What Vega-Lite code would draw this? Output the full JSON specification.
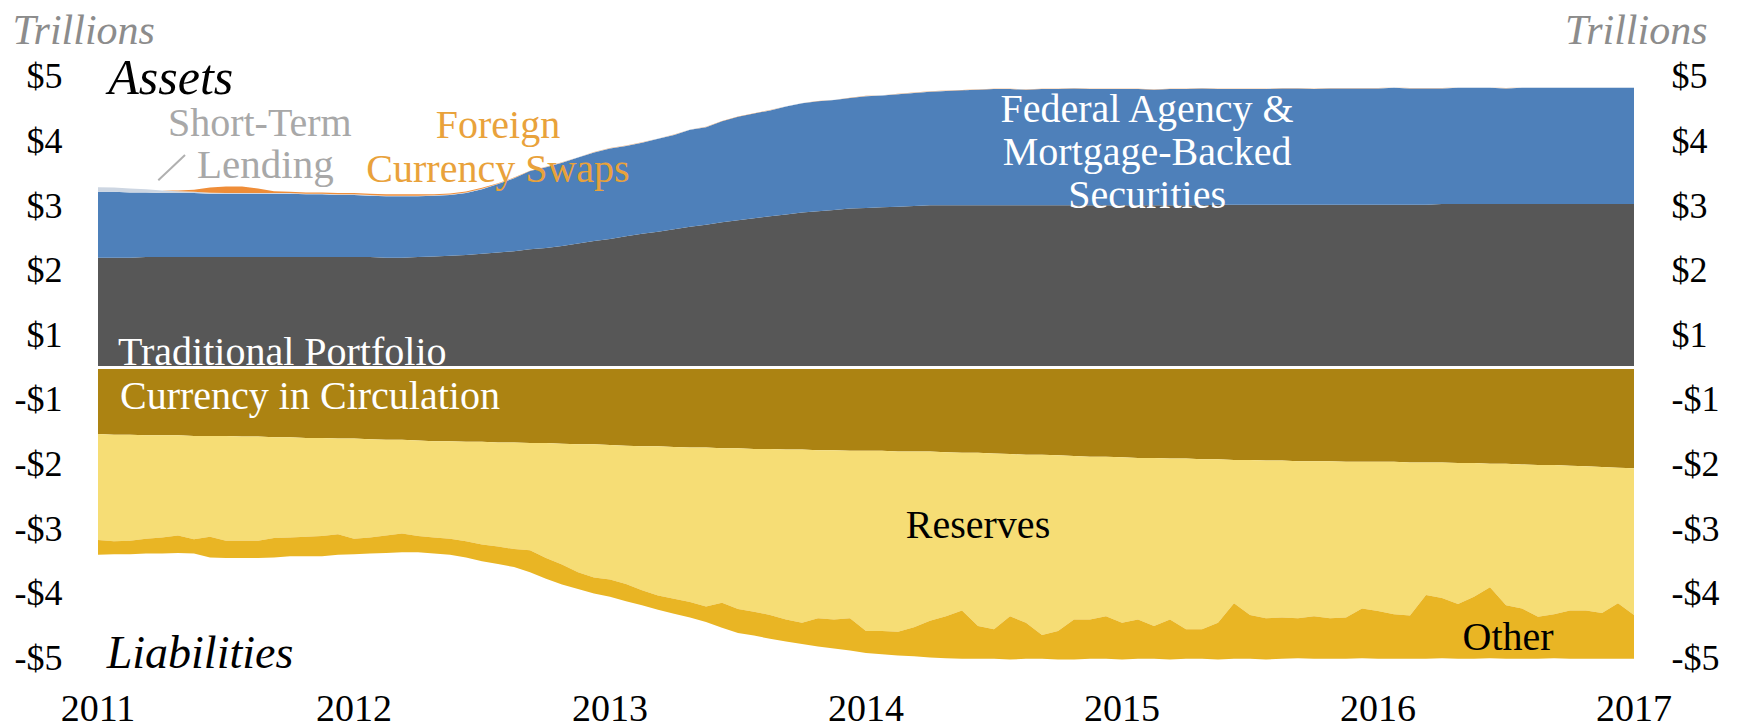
{
  "$schema": "https://vega.github.io/schema/vega-lite/v6.json",
  "autosize": {"type": "none"},
  "width": 1536,
  "height": 646,
  "padding": {"left": 98, "top": 44.5, "right": 104, "bottom": 37.5},
  "background": "white",
  "config": {
    "font": "Liberation Serif",
    "view": {"stroke": null},
    "text": {"font": "Liberation Serif"}
  },
  "datasets": {
    "series": [
      {"key": "trad", "rank": 1},
      {"key": "mbs", "rank": 2},
      {"key": "st", "rank": 3},
      {"key": "fx", "rank": 4},
      {"key": "cur", "rank": 5},
      {"key": "res", "rank": 6},
      {"key": "oth", "rank": 7}
    ],
    "years": [
      {"year": 2011}, {"year": 2012}, {"year": 2013}, {"year": 2014}, {"year": 2015}, {"year": 2016}, {"year": 2017}
    ],
    "balance": [
      {"year": 2011, "trad": 1.70, "mbs": 1.02, "st": 0.07, "fx": 0, "cur": -1.03, "res": -1.64, "oth": -0.23},
      {"year": 2011.0625, "trad": 1.70, "mbs": 1.02, "st": 0.065, "fx": 0, "cur": -1.04, "res": -1.65, "oth": -0.20},
      {"year": 2011.125, "trad": 1.70, "mbs": 1.01, "st": 0.06, "fx": 0, "cur": -1.04, "res": -1.64, "oth": -0.21},
      {"year": 2011.1875, "trad": 1.71, "mbs": 1.00, "st": 0.05, "fx": 0, "cur": -1.05, "res": -1.60, "oth": -0.23},
      {"year": 2011.25, "trad": 1.71, "mbs": 0.99, "st": 0.04, "fx": 0, "cur": -1.05, "res": -1.58, "oth": -0.25},
      {"year": 2011.3125, "trad": 1.71, "mbs": 0.99, "st": 0.03, "fx": 0.01, "cur": -1.05, "res": -1.55, "oth": -0.27},
      {"year": 2011.375, "trad": 1.71, "mbs": 0.99, "st": 0.02, "fx": 0.03, "cur": -1.06, "res": -1.60, "oth": -0.22},
      {"year": 2011.4375, "trad": 1.71, "mbs": 0.98, "st": 0.015, "fx": 0.08, "cur": -1.06, "res": -1.56, "oth": -0.32},
      {"year": 2011.5, "trad": 1.71, "mbs": 0.98, "st": 0.01, "fx": 0.10, "cur": -1.06, "res": -1.62, "oth": -0.27},
      {"year": 2011.5625, "trad": 1.71, "mbs": 0.98, "st": 0.01, "fx": 0.10, "cur": -1.07, "res": -1.61, "oth": -0.27},
      {"year": 2011.625, "trad": 1.71, "mbs": 0.98, "st": 0.01, "fx": 0.07, "cur": -1.07, "res": -1.61, "oth": -0.27},
      {"year": 2011.6875, "trad": 1.71, "mbs": 0.98, "st": 0.01, "fx": 0.03, "cur": -1.08, "res": -1.56, "oth": -0.30},
      {"year": 2011.75, "trad": 1.71, "mbs": 0.98, "st": 0.01, "fx": 0.02, "cur": -1.08, "res": -1.55, "oth": -0.29},
      {"year": 2011.8125, "trad": 1.71, "mbs": 0.97, "st": 0.01, "fx": 0.02, "cur": -1.09, "res": -1.53, "oth": -0.30},
      {"year": 2011.875, "trad": 1.71, "mbs": 0.97, "st": 0.01, "fx": 0.02, "cur": -1.09, "res": -1.52, "oth": -0.31},
      {"year": 2011.9375, "trad": 1.71, "mbs": 0.96, "st": 0.01, "fx": 0.02, "cur": -1.10, "res": -1.48, "oth": -0.32},
      {"year": 2012, "trad": 1.71, "mbs": 0.96, "st": 0.01, "fx": 0.02, "cur": -1.10, "res": -1.55, "oth": -0.24},
      {"year": 2012.0625, "trad": 1.71, "mbs": 0.95, "st": 0.01, "fx": 0.02, "cur": -1.11, "res": -1.52, "oth": -0.25},
      {"year": 2012.125, "trad": 1.70, "mbs": 0.95, "st": 0.01, "fx": 0.02, "cur": -1.12, "res": -1.48, "oth": -0.27},
      {"year": 2012.1875, "trad": 1.70, "mbs": 0.95, "st": 0.01, "fx": 0.02, "cur": -1.12, "res": -1.45, "oth": -0.29},
      {"year": 2012.25, "trad": 1.71, "mbs": 0.94, "st": 0.01, "fx": 0.02, "cur": -1.13, "res": -1.48, "oth": -0.25},
      {"year": 2012.3125, "trad": 1.72, "mbs": 0.94, "st": 0.008, "fx": 0.015, "cur": -1.14, "res": -1.49, "oth": -0.25},
      {"year": 2012.375, "trad": 1.73, "mbs": 0.94, "st": 0.008, "fx": 0.015, "cur": -1.14, "res": -1.51, "oth": -0.25},
      {"year": 2012.4375, "trad": 1.74, "mbs": 0.96, "st": 0.008, "fx": 0.015, "cur": -1.15, "res": -1.54, "oth": -0.25},
      {"year": 2012.5, "trad": 1.76, "mbs": 1.00, "st": 0.006, "fx": 0.015, "cur": -1.15, "res": -1.59, "oth": -0.26},
      {"year": 2012.5625, "trad": 1.78, "mbs": 1.06, "st": 0.005, "fx": 0.006, "cur": -1.16, "res": -1.61, "oth": -0.27},
      {"year": 2012.625, "trad": 1.80, "mbs": 1.13, "st": 0.005, "fx": 0.005, "cur": -1.16, "res": -1.65, "oth": -0.28},
      {"year": 2012.6875, "trad": 1.83, "mbs": 1.21, "st": 0.003, "fx": 0.003, "cur": -1.17, "res": -1.66, "oth": -0.34},
      {"year": 2012.75, "trad": 1.85, "mbs": 1.25, "st": 0.003, "fx": 0.003, "cur": -1.17, "res": -1.78, "oth": -0.32},
      {"year": 2012.8125, "trad": 1.88, "mbs": 1.29, "st": 0.003, "fx": 0.003, "cur": -1.18, "res": -1.87, "oth": -0.31},
      {"year": 2012.875, "trad": 1.92, "mbs": 1.33, "st": 0.003, "fx": 0.003, "cur": -1.19, "res": -1.98, "oth": -0.26},
      {"year": 2012.9375, "trad": 1.96, "mbs": 1.37, "st": 0.003, "fx": 0.003, "cur": -1.19, "res": -2.06, "oth": -0.25},
      {"year": 2013, "trad": 1.99, "mbs": 1.40, "st": 0.003, "fx": 0.003, "cur": -1.20, "res": -2.08, "oth": -0.27},
      {"year": 2013.0625, "trad": 2.03, "mbs": 1.40, "st": 0.003, "fx": 0.003, "cur": -1.21, "res": -2.14, "oth": -0.27},
      {"year": 2013.125, "trad": 2.07, "mbs": 1.41, "st": 0.003, "fx": 0.003, "cur": -1.22, "res": -2.23, "oth": -0.23},
      {"year": 2013.1875, "trad": 2.10, "mbs": 1.44, "st": 0.003, "fx": 0.003, "cur": -1.22, "res": -2.31, "oth": -0.22},
      {"year": 2013.25, "trad": 2.14, "mbs": 1.46, "st": 0.003, "fx": 0.003, "cur": -1.23, "res": -2.35, "oth": -0.23},
      {"year": 2013.3125, "trad": 2.18, "mbs": 1.50, "st": 0.003, "fx": 0.003, "cur": -1.24, "res": -2.39, "oth": -0.24},
      {"year": 2013.375, "trad": 2.21, "mbs": 1.51, "st": 0.003, "fx": 0.003, "cur": -1.24, "res": -2.46, "oth": -0.24},
      {"year": 2013.4375, "trad": 2.25, "mbs": 1.56, "st": 0.003, "fx": 0.003, "cur": -1.25, "res": -2.39, "oth": -0.39},
      {"year": 2013.5, "trad": 2.28, "mbs": 1.60, "st": 0.003, "fx": 0.003, "cur": -1.25, "res": -2.49, "oth": -0.37},
      {"year": 2013.5625, "trad": 2.31, "mbs": 1.62, "st": 0.003, "fx": 0.003, "cur": -1.26, "res": -2.52, "oth": -0.37},
      {"year": 2013.625, "trad": 2.34, "mbs": 1.64, "st": 0.003, "fx": 0.003, "cur": -1.26, "res": -2.57, "oth": -0.37},
      {"year": 2013.6875, "trad": 2.37, "mbs": 1.67, "st": 0.003, "fx": 0.003, "cur": -1.27, "res": -2.63, "oth": -0.34},
      {"year": 2013.75, "trad": 2.40, "mbs": 1.69, "st": 0.003, "fx": 0.003, "cur": -1.27, "res": -2.68, "oth": -0.33},
      {"year": 2013.8125, "trad": 2.42, "mbs": 1.70, "st": 0.003, "fx": 0.003, "cur": -1.28, "res": -2.60, "oth": -0.44},
      {"year": 2013.875, "trad": 2.44, "mbs": 1.70, "st": 0.003, "fx": 0.003, "cur": -1.28, "res": -2.62, "oth": -0.45},
      {"year": 2013.9375, "trad": 2.46, "mbs": 1.71, "st": 0.003, "fx": 0.003, "cur": -1.29, "res": -2.59, "oth": -0.50},
      {"year": 2014, "trad": 2.47, "mbs": 1.73, "st": 0.003, "fx": 0.003, "cur": -1.29, "res": -2.79, "oth": -0.34},
      {"year": 2014.0625, "trad": 2.48, "mbs": 1.73, "st": 0.003, "fx": 0.003, "cur": -1.29, "res": -2.79, "oth": -0.36},
      {"year": 2014.125, "trad": 2.49, "mbs": 1.74, "st": 0.003, "fx": 0.003, "cur": -1.30, "res": -2.79, "oth": -0.37},
      {"year": 2014.1875, "trad": 2.50, "mbs": 1.75, "st": 0.003, "fx": 0.003, "cur": -1.30, "res": -2.72, "oth": -0.45},
      {"year": 2014.25, "trad": 2.51, "mbs": 1.76, "st": 0.003, "fx": 0.003, "cur": -1.30, "res": -2.62, "oth": -0.57},
      {"year": 2014.3125, "trad": 2.51, "mbs": 1.77, "st": 0.003, "fx": 0.003, "cur": -1.31, "res": -2.54, "oth": -0.65},
      {"year": 2014.375, "trad": 2.51, "mbs": 1.78, "st": 0.003, "fx": 0.003, "cur": -1.32, "res": -2.44, "oth": -0.75},
      {"year": 2014.4375, "trad": 2.51, "mbs": 1.79, "st": 0.003, "fx": 0.003, "cur": -1.32, "res": -2.68, "oth": -0.51},
      {"year": 2014.5, "trad": 2.51, "mbs": 1.80, "st": 0.003, "fx": 0.003, "cur": -1.33, "res": -2.72, "oth": -0.46},
      {"year": 2014.5625, "trad": 2.51, "mbs": 1.80, "st": 0.003, "fx": 0.003, "cur": -1.34, "res": -2.51, "oth": -0.67},
      {"year": 2014.625, "trad": 2.51, "mbs": 1.79, "st": 0.003, "fx": 0.003, "cur": -1.35, "res": -2.60, "oth": -0.56},
      {"year": 2014.6875, "trad": 2.51, "mbs": 1.80, "st": 0.003, "fx": 0.003, "cur": -1.35, "res": -2.79, "oth": -0.37},
      {"year": 2014.75, "trad": 2.51, "mbs": 1.80, "st": 0.003, "fx": 0.003, "cur": -1.36, "res": -2.72, "oth": -0.44},
      {"year": 2014.8125, "trad": 2.51, "mbs": 1.81, "st": 0.003, "fx": 0.003, "cur": -1.37, "res": -2.53, "oth": -0.62},
      {"year": 2014.875, "trad": 2.51, "mbs": 1.80, "st": 0.003, "fx": 0.003, "cur": -1.38, "res": -2.52, "oth": -0.61},
      {"year": 2014.9375, "trad": 2.51, "mbs": 1.80, "st": 0.003, "fx": 0.003, "cur": -1.38, "res": -2.47, "oth": -0.66},
      {"year": 2015, "trad": 2.51, "mbs": 1.80, "st": 0.003, "fx": 0.003, "cur": -1.39, "res": -2.56, "oth": -0.57},
      {"year": 2015.0625, "trad": 2.51, "mbs": 1.80, "st": 0.003, "fx": 0.003, "cur": -1.40, "res": -2.50, "oth": -0.61},
      {"year": 2015.125, "trad": 2.51, "mbs": 1.79, "st": 0.003, "fx": 0.003, "cur": -1.40, "res": -2.60, "oth": -0.51},
      {"year": 2015.1875, "trad": 2.51, "mbs": 1.80, "st": 0.003, "fx": 0.003, "cur": -1.41, "res": -2.49, "oth": -0.62},
      {"year": 2015.25, "trad": 2.51, "mbs": 1.80, "st": 0.003, "fx": 0.003, "cur": -1.41, "res": -2.64, "oth": -0.46},
      {"year": 2015.3125, "trad": 2.51, "mbs": 1.81, "st": 0.003, "fx": 0.003, "cur": -1.42, "res": -2.63, "oth": -0.46},
      {"year": 2015.375, "trad": 2.52, "mbs": 1.79, "st": 0.003, "fx": 0.003, "cur": -1.42, "res": -2.53, "oth": -0.57},
      {"year": 2015.4375, "trad": 2.52, "mbs": 1.79, "st": 0.003, "fx": 0.003, "cur": -1.43, "res": -2.22, "oth": -0.86},
      {"year": 2015.5, "trad": 2.52, "mbs": 1.79, "st": 0.003, "fx": 0.003, "cur": -1.43, "res": -2.40, "oth": -0.68},
      {"year": 2015.5625, "trad": 2.52, "mbs": 1.79, "st": 0.003, "fx": 0.003, "cur": -1.44, "res": -2.44, "oth": -0.64},
      {"year": 2015.625, "trad": 2.52, "mbs": 1.80, "st": 0.003, "fx": 0.003, "cur": -1.44, "res": -2.43, "oth": -0.64},
      {"year": 2015.6875, "trad": 2.52, "mbs": 1.80, "st": 0.003, "fx": 0.003, "cur": -1.45, "res": -2.43, "oth": -0.62},
      {"year": 2015.75, "trad": 2.52, "mbs": 1.79, "st": 0.003, "fx": 0.003, "cur": -1.45, "res": -2.40, "oth": -0.66},
      {"year": 2015.8125, "trad": 2.52, "mbs": 1.80, "st": 0.003, "fx": 0.003, "cur": -1.45, "res": -2.43, "oth": -0.63},
      {"year": 2015.875, "trad": 2.52, "mbs": 1.80, "st": 0.003, "fx": 0.003, "cur": -1.46, "res": -2.41, "oth": -0.64},
      {"year": 2015.9375, "trad": 2.52, "mbs": 1.80, "st": 0.003, "fx": 0.003, "cur": -1.46, "res": -2.27, "oth": -0.77},
      {"year": 2016, "trad": 2.52, "mbs": 1.80, "st": 0.003, "fx": 0.003, "cur": -1.46, "res": -2.31, "oth": -0.74},
      {"year": 2016.0625, "trad": 2.52, "mbs": 1.81, "st": 0.003, "fx": 0.003, "cur": -1.46, "res": -2.36, "oth": -0.69},
      {"year": 2016.125, "trad": 2.52, "mbs": 1.80, "st": 0.003, "fx": 0.003, "cur": -1.47, "res": -2.37, "oth": -0.67},
      {"year": 2016.1875, "trad": 2.52, "mbs": 1.80, "st": 0.003, "fx": 0.003, "cur": -1.47, "res": -2.05, "oth": -0.99},
      {"year": 2016.25, "trad": 2.53, "mbs": 1.79, "st": 0.003, "fx": 0.003, "cur": -1.47, "res": -2.10, "oth": -0.93},
      {"year": 2016.3125, "trad": 2.53, "mbs": 1.80, "st": 0.003, "fx": 0.003, "cur": -1.48, "res": -2.18, "oth": -0.85},
      {"year": 2016.375, "trad": 2.53, "mbs": 1.80, "st": 0.003, "fx": 0.003, "cur": -1.48, "res": -2.07, "oth": -0.96},
      {"year": 2016.4375, "trad": 2.53, "mbs": 1.80, "st": 0.003, "fx": 0.003, "cur": -1.49, "res": -1.91, "oth": -1.10},
      {"year": 2016.5, "trad": 2.53, "mbs": 1.79, "st": 0.003, "fx": 0.003, "cur": -1.49, "res": -2.19, "oth": -0.83},
      {"year": 2016.5625, "trad": 2.53, "mbs": 1.80, "st": 0.003, "fx": 0.003, "cur": -1.50, "res": -2.23, "oth": -0.78},
      {"year": 2016.625, "trad": 2.53, "mbs": 1.80, "st": 0.003, "fx": 0.003, "cur": -1.51, "res": -2.35, "oth": -0.65},
      {"year": 2016.6875, "trad": 2.53, "mbs": 1.80, "st": 0.003, "fx": 0.003, "cur": -1.51, "res": -2.31, "oth": -0.68},
      {"year": 2016.75, "trad": 2.53, "mbs": 1.80, "st": 0.003, "fx": 0.003, "cur": -1.52, "res": -2.24, "oth": -0.75},
      {"year": 2016.8125, "trad": 2.53, "mbs": 1.80, "st": 0.003, "fx": 0.003, "cur": -1.53, "res": -2.23, "oth": -0.75},
      {"year": 2016.875, "trad": 2.53, "mbs": 1.80, "st": 0.003, "fx": 0.003, "cur": -1.54, "res": -2.26, "oth": -0.71},
      {"year": 2016.9375, "trad": 2.53, "mbs": 1.80, "st": 0.003, "fx": 0.003, "cur": -1.55, "res": -2.10, "oth": -0.86},
      {"year": 2017, "trad": 2.53, "mbs": 1.80, "st": 0.003, "fx": 0.003, "cur": -1.56, "res": -2.27, "oth": -0.68}
    ],
    "labels": [
      {"g": "assets", "year": 2011.04, "value": 4.234, "text": "Assets"},
      {"g": "liab", "year": 2011.034, "value": -4.65, "text": "Liabilities"},
      {"g": "gray", "year": 2011.273, "value": 3.576, "text": "Short-Term"},
      {"g": "gray2", "year": 2011.387, "value": 2.93, "text": "Lending"},
      {"g": "orange", "year": 2012.5625, "value": 3.55, "text": "Foreign"},
      {"g": "orange", "year": 2012.5625, "value": 2.87, "text": "Currency Swaps"},
      {"g": "whiteL", "year": 2011.078, "value": 0.04, "text": "Traditional Portfolio"},
      {"g": "whiteL", "year": 2011.086, "value": -0.64, "text": "Currency in Circulation"},
      {"g": "whiteC", "year": 2015.098, "value": 3.80, "text": "Federal Agency &"},
      {"g": "whiteC", "year": 2015.098, "value": 3.13, "text": "Mortgage-Backed"},
      {"g": "whiteC", "year": 2015.098, "value": 2.47, "text": "Securities"},
      {"g": "blackC", "year": 2014.4375, "value": -2.64, "text": "Reserves"},
      {"g": "blackC", "year": 2016.508, "value": -4.37, "text": "Other"}
    ]
  },
  "layer": [
    {
      "data": {"name": "balance"},
      "transform": [
        {"fold": ["trad", "mbs", "st", "fx", "cur", "res", "oth"], "as": ["key", "value"]},
        {"lookup": "key", "from": {"data": {"name": "series"}, "key": "key", "fields": ["rank"]}}
      ],
      "mark": {"type": "area", "interpolate": "linear"},
      "encoding": {
        "x": {
          "field": "year", "type": "quantitative",
          "scale": {"domain": [2011, 2017], "nice": false, "zero": false},
          "axis": null
        },
        "y": {
          "field": "value", "type": "quantitative", "stack": "zero",
          "scale": {"domain": [-5, 5], "nice": false, "zero": false},
          "axis": {
            "orient": "left",
            "values": [-4.5, -3.5, -2.5, -1.5, -0.5, 0.5, 1.5, 2.5, 3.5, 4.5],
            "labelExpr": "datum.value > 0 ? '$' + (datum.value + 0.5) : '-$' + (0.5 - datum.value)",
            "labelFont": "Liberation Serif", "labelFontSize": 36, "labelColor": "#000000",
            "labelPadding": 36, "labelFlush": false,
            "domain": false, "ticks": false, "tickSize": 0, "grid": false,
            "title": "Trillions", "titleAngle": 0, "titleX": -86, "titleY": -1,
            "titleAlign": "left", "titleBaseline": "alphabetic",
            "titleFont": "Liberation Serif", "titleFontStyle": "italic", "titleFontWeight": "normal",
            "titleFontSize": 42, "titleColor": "#8c8c8c"
          }
        },
        "color": {
          "field": "key", "type": "nominal",
          "scale": {
            "domain": ["trad", "mbs", "st", "fx", "cur", "res", "oth"],
            "range": ["#575757", "#4e80ba", "#cdd6e2", "#ef8d38", "#ac8312", "#f6dd75", "#e9b524"]
          },
          "legend": null
        },
        "order": {"field": "rank", "type": "quantitative"}
      }
    },
    {
      "data": {"values": [{"from": 2011, "to": 2017, "level": 0}]},
      "mark": {"type": "rule", "color": "#ffffff", "strokeWidth": 3},
      "encoding": {
        "x": {"field": "from", "type": "quantitative", "scale": {"domain": [2011, 2017], "nice": false, "zero": false}, "axis": null},
        "x2": {"field": "to"},
        "y": {
          "field": "level", "type": "quantitative",
          "scale": {"domain": [-5, 5], "nice": false, "zero": false},
          "axis": {
            "orient": "right",
            "values": [-4.5, -3.5, -2.5, -1.5, -0.5, 0.5, 1.5, 2.5, 3.5, 4.5],
            "labelExpr": "datum.value > 0 ? '$' + (datum.value + 0.5) : '-$' + (0.5 - datum.value)",
            "labelFont": "Liberation Serif", "labelFontSize": 36, "labelColor": "#000000",
            "labelPadding": 37, "labelFlush": false,
            "domain": false, "ticks": false, "tickSize": 0, "grid": false,
            "title": "Trillions", "titleAngle": 0, "titleX": 73, "titleY": -1,
            "titleAlign": "right", "titleBaseline": "alphabetic",
            "titleFont": "Liberation Serif", "titleFontStyle": "italic", "titleFontWeight": "normal",
            "titleFontSize": 42, "titleColor": "#8c8c8c"
          }
        }
      }
    },
    {
      "data": {"name": "years"},
      "mark": {"type": "text", "font": "Liberation Serif", "fontSize": 38, "color": "#000000", "align": "center", "baseline": "alphabetic", "dy": 30},
      "encoding": {
        "x": {"field": "year", "type": "quantitative", "axis": null},
        "y": {"datum": -5, "type": "quantitative", "axis": null},
        "text": {"field": "year", "type": "quantitative", "format": "d"}
      }
    },
    {
      "data": {"values": [{"year": 2011.2355, "value": 2.90, "year2": 2011.34, "value2": 3.29}]},
      "mark": {"type": "rule", "color": "#b0b0b0", "strokeWidth": 2},
      "encoding": {
        "x": {"field": "year", "type": "quantitative", "axis": null},
        "x2": {"field": "year2"},
        "y": {"field": "value", "type": "quantitative", "axis": null},
        "y2": {"field": "value2"}
      }
    },
    {
      "data": {"name": "labels"},
      "transform": [{"filter": "datum.g === 'assets'"}],
      "mark": {"type": "text", "font": "Liberation Serif", "fontStyle": "italic", "fontSize": 50, "color": "#000000", "align": "left", "baseline": "alphabetic"},
      "encoding": {
        "x": {"field": "year", "type": "quantitative", "axis": null},
        "y": {"field": "value", "type": "quantitative", "axis": null},
        "text": {"field": "text"}
      }
    },
    {
      "data": {"name": "labels"},
      "transform": [{"filter": "datum.g === 'liab'"}],
      "mark": {"type": "text", "font": "Liberation Serif", "fontStyle": "italic", "fontSize": 46, "color": "#000000", "align": "left", "baseline": "alphabetic"},
      "encoding": {
        "x": {"field": "year", "type": "quantitative", "axis": null},
        "y": {"field": "value", "type": "quantitative", "axis": null},
        "text": {"field": "text"}
      }
    },
    {
      "data": {"name": "labels"},
      "transform": [{"filter": "datum.g === 'gray'"}],
      "mark": {"type": "text", "font": "Liberation Serif", "fontSize": 40, "color": "#a8a8a8", "align": "left", "baseline": "alphabetic"},
      "encoding": {
        "x": {"field": "year", "type": "quantitative", "axis": null},
        "y": {"field": "value", "type": "quantitative", "axis": null},
        "text": {"field": "text"}
      }
    },
    {
      "data": {"name": "labels"},
      "transform": [{"filter": "datum.g === 'gray2'"}],
      "mark": {"type": "text", "font": "Liberation Serif", "fontSize": 41, "color": "#a8a8a8", "align": "left", "baseline": "alphabetic"},
      "encoding": {
        "x": {"field": "year", "type": "quantitative", "axis": null},
        "y": {"field": "value", "type": "quantitative", "axis": null},
        "text": {"field": "text"}
      }
    },
    {
      "data": {"name": "labels"},
      "transform": [{"filter": "datum.g === 'orange'"}],
      "mark": {"type": "text", "font": "Liberation Serif", "fontSize": 40, "color": "#e9a23b", "align": "center", "baseline": "alphabetic"},
      "encoding": {
        "x": {"field": "year", "type": "quantitative", "axis": null},
        "y": {"field": "value", "type": "quantitative", "axis": null},
        "text": {"field": "text"}
      }
    },
    {
      "data": {"name": "labels"},
      "transform": [{"filter": "datum.g === 'whiteL'"}],
      "mark": {"type": "text", "font": "Liberation Serif", "fontSize": 40, "color": "#ffffff", "align": "left", "baseline": "alphabetic"},
      "encoding": {
        "x": {"field": "year", "type": "quantitative", "axis": null},
        "y": {"field": "value", "type": "quantitative", "axis": null},
        "text": {"field": "text"}
      }
    },
    {
      "data": {"name": "labels"},
      "transform": [{"filter": "datum.g === 'whiteC'"}],
      "mark": {"type": "text", "font": "Liberation Serif", "fontSize": 40, "color": "#ffffff", "align": "center", "baseline": "alphabetic"},
      "encoding": {
        "x": {"field": "year", "type": "quantitative", "axis": null},
        "y": {"field": "value", "type": "quantitative", "axis": null},
        "text": {"field": "text"}
      }
    },
    {
      "data": {"name": "labels"},
      "transform": [{"filter": "datum.g === 'blackC'"}],
      "mark": {"type": "text", "font": "Liberation Serif", "fontSize": 40, "color": "#000000", "align": "center", "baseline": "alphabetic"},
      "encoding": {
        "x": {"field": "year", "type": "quantitative", "axis": null},
        "y": {"field": "value", "type": "quantitative", "axis": null},
        "text": {"field": "text"}
      }
    }
  ],
  "resolve": {"axis": {"y": "independent"}}
}
